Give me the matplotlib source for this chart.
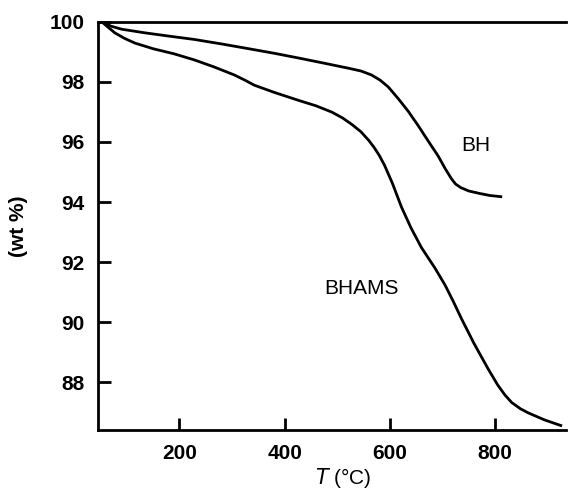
import matplotlib
matplotlib.use("Agg")
import matplotlib.pyplot as plt

# values (T in degC, weight in wt %)
bh_T = [52, 70, 90, 134, 180, 228, 280, 332, 380, 427, 475, 522, 545, 565,
        582, 597, 616, 635, 654, 673, 692, 705, 717, 725, 735, 750, 770, 790, 811]
bh_wt = [100.0, 99.85, 99.75, 99.63, 99.52, 99.41, 99.26, 99.10, 98.95, 98.79,
         98.62, 98.45, 98.36, 98.23, 98.05, 97.83, 97.44, 97.02, 96.54, 96.03,
         95.53, 95.12, 94.78, 94.60, 94.48, 94.37, 94.29, 94.22, 94.18]

bhams_T = [52, 62, 77, 95, 115, 150, 190, 228, 265, 304, 325, 342, 380, 427,
           460, 490, 510, 528, 545, 560, 570, 580, 590, 605, 622, 640, 660, 686,
           705, 720, 736, 760, 787, 805, 819, 832, 848, 863, 895, 925]
bhams_wt = [100.0, 99.85, 99.63, 99.45, 99.29, 99.10, 98.93, 98.73, 98.50,
            98.23, 98.05, 97.89, 97.65, 97.38, 97.20, 96.99, 96.80, 96.58, 96.34,
            96.05, 95.82, 95.55, 95.22, 94.62, 93.84, 93.15, 92.49, 91.80, 91.24,
            90.72, 90.13, 89.30, 88.45, 87.92, 87.58, 87.33, 87.13, 86.99, 86.75,
            86.57]

xticks = [200, 400, 600, 800]
yticks = [88, 90, 92, 94, 96, 98, 100]

plt.rcParams['font.family'] = ['Liberation Sans', 'DejaVu Sans']

fig = plt.figure(figsize=(5.68, 4.93), dpi=100)
ax = fig.add_axes([0.1734, 0.1278, 0.8231, 0.8282])

ax.plot(bh_T, bh_wt, color="black", lw=2, solid_joinstyle="round")
ax.plot(bhams_T, bhams_wt, color="black", lw=2, solid_joinstyle="round")

ax.text(764, 95.87, "BH", fontsize=15, ha="center", va="center")
ax.text(546, 91.14, "BHAMS", fontsize=15, ha="center", va="center")

ax.set_xlim(46, 935)
ax.set_ylim(86.42, 100)
ax.set_xticks(xticks)
ax.set_yticks(yticks)

for side in ["left", "bottom", "top"]:
    ax.spines[side].set_linewidth(2)
ax.spines["right"].set_visible(False)

ax.tick_params(direction="in", length=9, width=2, pad=10, labelsize=15)
for lbl in ax.get_xticklabels() + ax.get_yticklabels():
    lbl.set_fontweight("bold")

ax.set_xlabel(r"$\mathit{T}$ (°C)", fontsize=15)
ax.xaxis.set_label_coords(0.523, -0.088)
ax.set_ylabel("(wt %)", fontsize=15, fontweight="bold")
ax.yaxis.set_label_coords(-0.151, 0.5)

fig.savefig("out.png", dpi=100)
